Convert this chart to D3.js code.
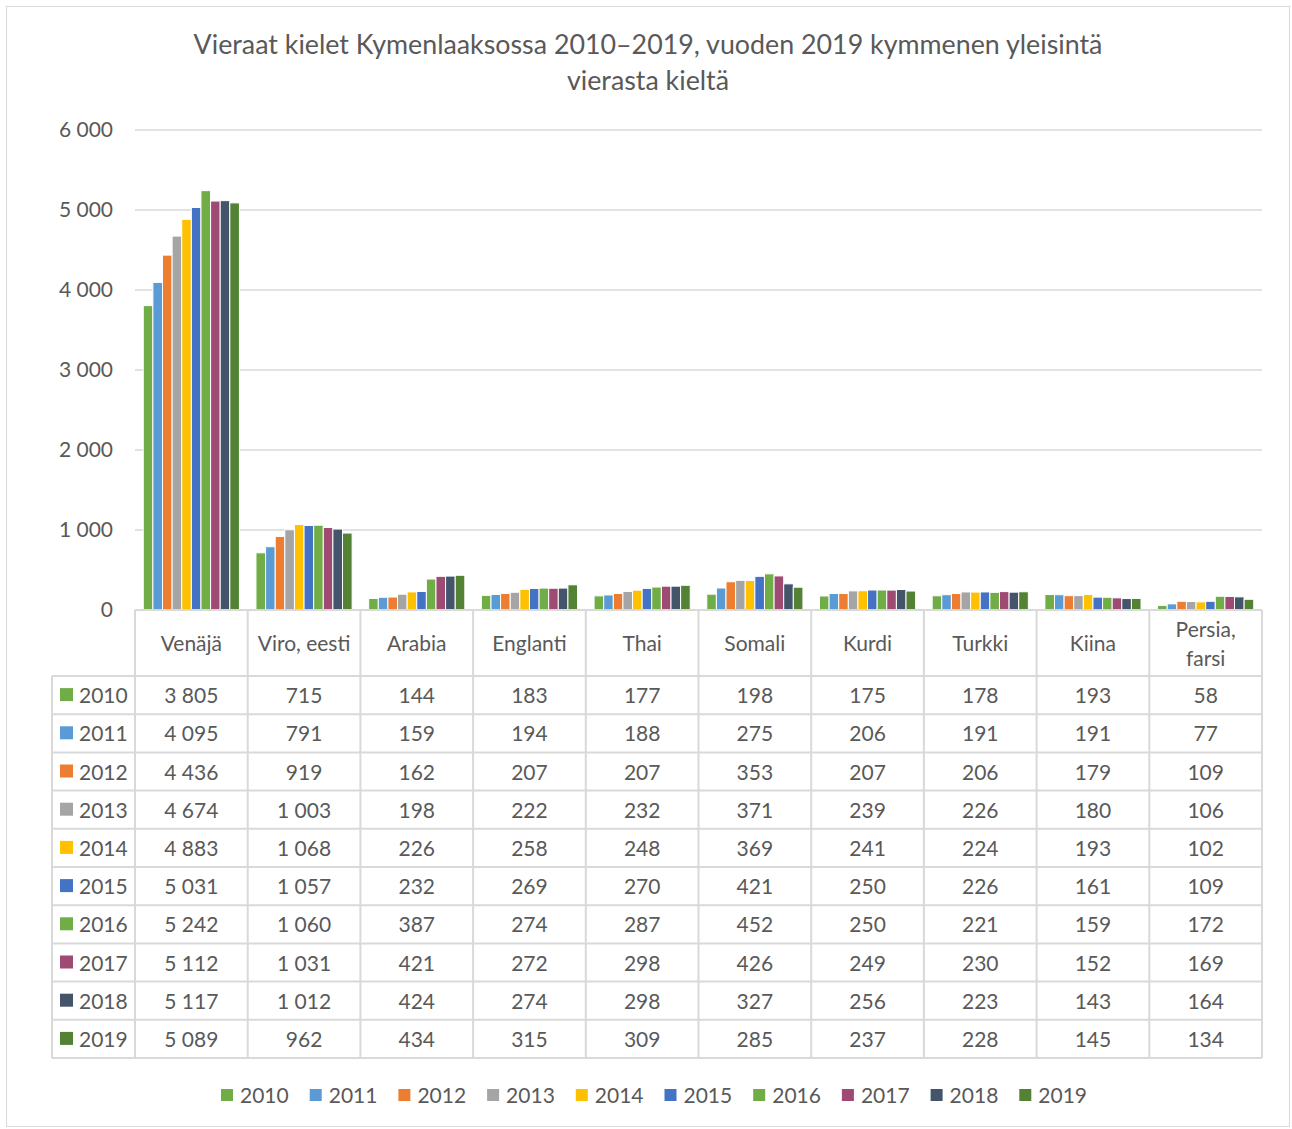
<!DOCTYPE html>
<html>
<head>
<meta charset="utf-8">
<script src="https://cdn.jsdelivr.net/npm/d3@7"></script>
<style>
  body { margin: 0; background: #fff; }
  text { font-family: Lato, "Open Sans", sans-serif; fill: #595959; }
</style>
</head>
<body>
<div class="visual"></div>
<script>
// data
const languages = ["Venäjä", "Viro, eesti", "Arabia", "Englanti", "Thai", "Somali", "Kurdi", "Turkki", "Kiina", "Persia, farsi"];
const years = ["2010", "2011", "2012", "2013", "2014", "2015", "2016", "2017", "2018", "2019"];
const v2010 = [3805, 715, 144, 183, 177, 198, 175, 178, 193, 58];
const v2011 = [4095, 791, 159, 194, 188, 275, 206, 191, 191, 77];
const v2012 = [4436, 919, 162, 207, 207, 353, 207, 206, 179, 109];
const v2013 = [4674, 1003, 198, 222, 232, 371, 239, 226, 180, 106];
const v2014 = [4883, 1068, 226, 258, 248, 369, 241, 224, 193, 102];
const v2015 = [5031, 1057, 232, 269, 270, 421, 250, 226, 161, 109];
const v2016 = [5242, 1060, 387, 274, 287, 452, 250, 221, 159, 172];
const v2017 = [5112, 1031, 421, 272, 298, 426, 249, 230, 152, 169];
const v2018 = [5117, 1012, 424, 274, 298, 327, 256, 223, 143, 164];
const v2019 = [5089, 962, 434, 315, 309, 285, 237, 228, 145, 134];
const yTicks = [0, 1000, 2000, 3000, 4000, 5000, 6000];
const colors = ["#70AD47", "#5B9BD5", "#ED7D31", "#A5A5A5", "#FFC000", "#4472C4", "#70AD47", "#9E4A73", "#44546A", "#548235"];

const series = [v2010, v2011, v2012, v2013, v2014, v2015, v2016, v2017, v2018, v2019];

const width = 1292, height = 1129;
const plot = {left: 135, right: 1262, top: 130, bottom: 610};
const tableBottom = 1058, headerBottom = 676, tableLeft = 52;
const grid = "#D9D9D9";
const fs = "21px";

const fmt = n => d3.format(",")(n).replace(/,/g, " ");

const svg = d3.select(".visual").append("svg")
  .attr("width", width).attr("height", height);

// outer border
svg.append("rect").attr("x", 6.5).attr("y", 6.5).attr("width", 1283).attr("height", 1120)
  .attr("fill", "none").attr("stroke", grid);

// title
svg.append("text").attr("x", 648).attr("y", 54).attr("text-anchor", "middle").style("font-size", "26.8px")
  .text("Vieraat kielet Kymenlaaksossa 2010–2019, vuoden 2019 kymmenen yleisintä");
svg.append("text").attr("x", 648).attr("y", 90).attr("text-anchor", "middle").style("font-size", "26.8px")
  .text("vierasta kieltä");

// scales
const x = d3.scaleBand().domain(languages).range([plot.left, plot.right]);
const xi = d3.scaleBand().domain(years).range([0, x.bandwidth()]).paddingOuter(0.86);
const y = d3.scaleLinear().domain([0, 6000]).range([plot.bottom, plot.top]);

// gridlines
svg.append("g").selectAll("line").data(yTicks.filter(d => d > 0)).enter().append("line")
  .attr("x1", plot.left).attr("x2", plot.right)
  .attr("y1", d => y(d)).attr("y2", d => y(d))
  .attr("stroke", grid).attr("stroke-width", 1.5);

// y axis labels
const yAxis = d3.axisLeft(y).tickValues(yTicks).tickFormat(fmt).tickSize(0).tickPadding(22);
const ya = svg.append("g").attr("transform", "translate(" + plot.left + ",0)").call(yAxis);
ya.select(".domain").remove();
ya.selectAll("text").style("font-size", fs).attr("fill", "#595959");

// bars
const groups = svg.append("g").selectAll("g").data(series).enter().append("g")
  .attr("fill", (d, i) => colors[i]);
groups.selectAll("rect").data((d, i) => d.map((v, j) => ({v: v, lang: languages[j], year: years[i]})))
  .enter().append("rect")
  .attr("x", d => x(d.lang) + xi(d.year))
  .attr("width", xi.bandwidth())
  .attr("y", d => y(d.v))
  .attr("height", d => y(0) - y(d.v))
  .attr("stroke", "#fff").attr("stroke-width", 1);

// table lines
const tbl = svg.append("g").attr("stroke", grid).attr("stroke-width", 2);
tbl.append("line").attr("x1", plot.left).attr("x2", plot.right).attr("y1", plot.bottom).attr("y2", plot.bottom);
const vx = languages.map(l => x(l)).concat([plot.right]);
tbl.selectAll(".v").data(vx).enter().append("line")
  .attr("x1", d => d).attr("x2", d => d).attr("y1", plot.bottom).attr("y2", tableBottom);
tbl.append("line").attr("x1", tableLeft).attr("x2", tableLeft).attr("y1", headerBottom).attr("y2", tableBottom);
const rowH = (tableBottom - headerBottom) / years.length;
const rowYs = d3.range(years.length + 1).map(i => headerBottom + i * rowH);
tbl.selectAll(".h").data(rowYs).enter().append("line")
  .attr("x1", tableLeft).attr("x2", plot.right).attr("y1", d => d).attr("y2", d => d);

// header
languages.forEach(l => {
  const cx = x(l) + x.bandwidth() / 2;
  const parts = l === "Persia, farsi" ? ["Persia,", "farsi"] : [l];
  parts.forEach((p, k) => {
    svg.append("text").attr("x", cx)
      .attr("y", parts.length === 1 ? 651 : 637 + k * 29)
      .attr("text-anchor", "middle").style("font-size", fs).text(p);
  });
});

// rows
years.forEach((yr, i) => {
  const cy = headerBottom + (i + 0.5) * rowH;
  svg.append("rect").attr("x", 60).attr("y", cy - 7).attr("width", 13).attr("height", 13).attr("fill", colors[i]);
  svg.append("text").attr("x", 79).attr("y", cy + 8).style("font-size", fs).text(yr);
  series[i].forEach((v, j) => {
    svg.append("text").attr("x", x(languages[j]) + x.bandwidth() / 2).attr("y", cy + 8)
      .attr("text-anchor", "middle").style("font-size", fs).text(fmt(v));
  });
});

// legend
const legend = svg.selectAll(".legend").data(years).enter().append("g")
  .attr("class", "legend")
  .attr("transform", (d, i) => "translate(" + (221 + i * 88.7) + ",1089)");
legend.append("rect").attr("width", 12).attr("height", 12).attr("fill", (d, i) => colors[i]);
legend.append("text").attr("x", 19).attr("y", 14).style("font-size", fs).text(d => d);
</script>
</body>
</html>
